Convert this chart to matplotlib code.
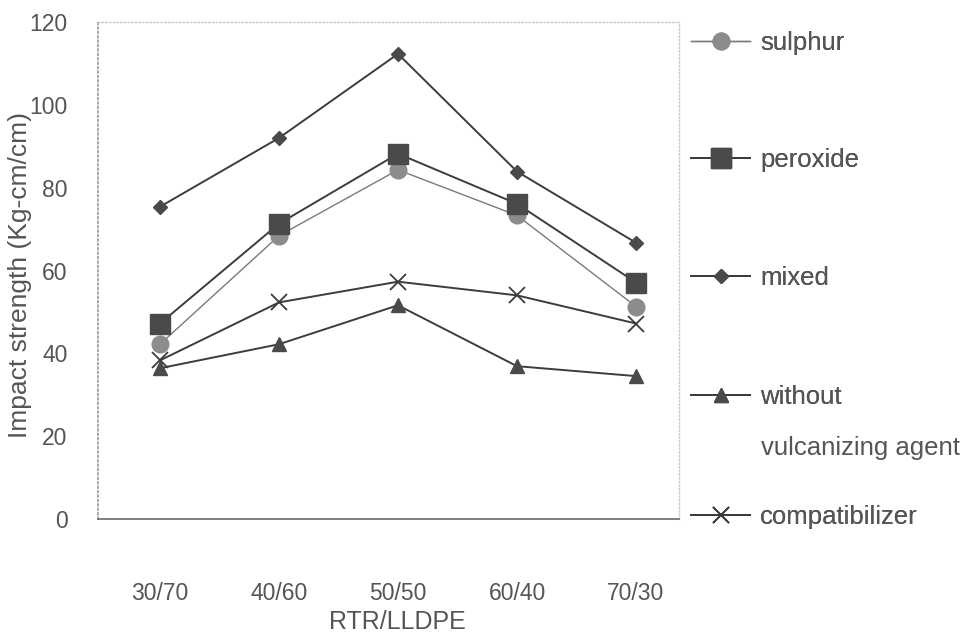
import matplotlib
matplotlib.use("Agg")
import matplotlib.pyplot as plt

plt.rcParams['font.family'] = ['Liberation Sans', 'DejaVu Sans']

categories = ["30/70", "40/60", "50/50", "60/40", "70/30"]
sulphur = [42.2, 68.4, 84.3, 73.3, 51.3]
peroxide = [47.2, 71.3, 88.2, 76.1, 57.1]
mixed = [75.4, 92.0, 112.3, 83.9, 66.7]
without_agent = [36.4, 42.2, 51.6, 36.9, 34.5]
compatibilizer = [38.3, 52.3, 57.3, 54.0, 47.2]
y_ticks = [0, 20, 40, 60, 80, 100, 120]

W, H = 962, 637
fig = plt.figure(figsize=(W / 100, H / 100), dpi=100)
ax = fig.add_axes([98 / W, 1 - 519 / H, (679 - 98) / W, (519 - 22) / H])

txt = '#555555'
dark = '#3c3c3c'
x = list(range(len(categories)))

l_s, = ax.plot(x, sulphur, color='#7a7a7a', lw=1.0, marker='o', ms=12,
               mfc='#8c8c8c', mec='#8c8c8c', zorder=3)
l_p, = ax.plot(x, peroxide, color=dark, lw=1.4, marker='s', ms=14,
               mfc='#4a4a4a', mec='#4a4a4a', zorder=4)
l_m, = ax.plot(x, mixed, color=dark, lw=1.4, marker='D', ms=7.5,
               mfc='#4a4a4a', mec='#4a4a4a', zorder=4)
l_w, = ax.plot(x, without_agent, color=dark, lw=1.4, marker='^', ms=10,
               mfc='#4a4a4a', mec='#4a4a4a', zorder=4)
l_c, = ax.plot(x, compatibilizer, color=dark, lw=1.4, marker='x', ms=11,
               mew=1.3, mec='#3c3c3c', zorder=4)

ax.set_xlim(-62 / 119, 4 + 43 / 119)
ax.set_ylim(0, 120)
ax.set_xticks(x)
ax.set_xticklabels(categories)
ax.set_yticks(y_ticks)
ax.tick_params(axis='x', length=0, pad=45, labelsize=16.5, labelcolor=txt)
ax.tick_params(axis='y', length=0, pad=22, labelsize=16.5, labelcolor=txt)

ax.set_xlabel("RTR/LLDPE", fontsize=18, color=txt)
ax.xaxis.set_label_coords(0.516, -0.183)
ax.set_ylabel("Impact strength (Kg-cm/cm)", fontsize=19, color=txt)
ax.yaxis.set_label_coords(-0.114, 0.49)

for s in ['top', 'right']:
    ax.spines[s].set_color('#c8c8c8')
    ax.spines[s].set_linestyle(':')
    ax.spines[s].set_linewidth(1.0)
ax.spines['left'].set_color('#9a9a9a')
ax.spines['left'].set_linestyle(':')
ax.spines['left'].set_linewidth(1.2)
ax.spines['bottom'].set_color('#6a6a6a')
ax.spines['bottom'].set_linewidth(1.2)

entries = [(l_s, "sulphur", 43), (l_p, "peroxide", 160), (l_m, "mixed", 278),
           (l_w, "without", 397), (l_c, "compatibilizer", 517)]
for h, lab, ypix in entries:
    leg = fig.legend([h], [lab], loc='center left',
                     bbox_to_anchor=(691 / W, 1 - ypix / H),
                     frameon=False, fontsize=18.5, handlelength=2.3,
                     handletextpad=0.4, borderpad=0, borderaxespad=0)
    for t in leg.get_texts():
        t.set_color(txt)
    fig.add_artist(leg)

fig.text(761 / W, 1 - 448 / H, "vulcanizing agent", fontsize=18.5, color=txt,
         ha='left', va='center')

fig.savefig("out.png", dpi=100, facecolor='white')
